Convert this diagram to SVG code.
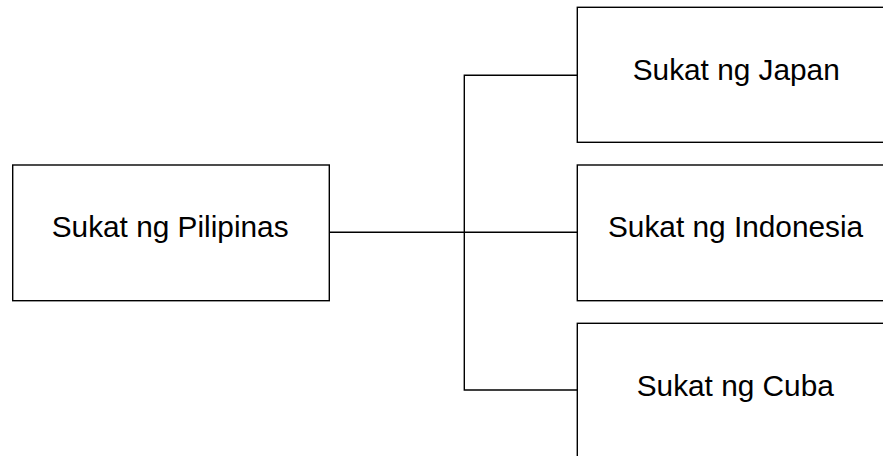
<svg xmlns="http://www.w3.org/2000/svg" width="883" height="456" viewBox="0 0 883 456">
<style>
.box{fill:#fff;stroke:#000;stroke-width:1.4}
.lbl{font-family:"Liberation Sans",Arial,sans-serif;font-size:29.8px;fill:#000}
.conn{fill:none;stroke:#000;stroke-width:1.4}
</style>
<rect width="883" height="456" fill="#fff"/>
<g id="connectors">
<path class="conn" d="M329.3 232.3H577.3"/>
<path class="conn" d="M577.3 75.3H464.3V390H577.3"/>
</g>
<g id="node-pilipinas">
<rect class="box" x="12.7" y="165" width="316.6" height="135.7"/>
<text class="lbl" x="51.7" y="237">Sukat ng Pilipinas</text>
</g>
<g id="node-japan">
<rect class="box" x="577.3" y="7.3" width="320" height="135"/>
<text class="lbl" x="632.7" y="80">Sukat ng Japan</text>
</g>
<g id="node-indonesia">
<rect class="box" x="577.3" y="165" width="320" height="135.7"/>
<text class="lbl" x="608" y="237.3">Sukat ng Indonesia</text>
</g>
<g id="node-cuba">
<rect class="box" x="577.3" y="323.3" width="320" height="150"/>
<text class="lbl" x="636.7" y="395.7">Sukat ng Cuba</text>
</g>
</svg>
